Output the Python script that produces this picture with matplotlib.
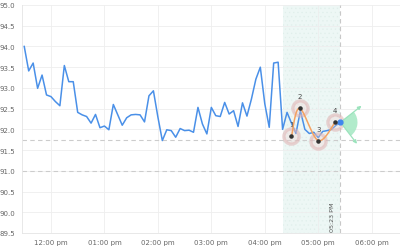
import numpy as np
import matplotlib.pyplot as plt
from matplotlib.patches import Wedge
from matplotlib.transforms import Affine2D, ScaledTranslation


def to_hours(hhmm):
    h, m = hhmm.split(":")
    return int(h) + int(m) / 60.0


# price series, one close every 5 minutes starting 11:30
start_time = "11:30"
step_minutes = 5
prices = [94.00, 93.41, 93.60, 92.99, 93.31, 92.83, 92.79, 92.67, 92.57, 93.54,
          93.15, 93.15, 92.41, 92.35, 92.31, 92.15, 92.36, 92.04, 92.08, 91.99,
          92.60, 92.35, 92.10, 92.28, 92.35, 92.36, 92.35, 92.18, 92.81, 92.93,
          92.30, 91.73, 91.99, 91.97, 91.81, 92.02, 91.97, 91.98, 91.93, 92.53,
          92.13, 91.89, 92.53, 92.33, 92.31, 92.65, 92.37, 92.45, 92.07, 92.64,
          92.32, 92.73, 93.21, 93.50, 92.62, 92.05, 93.60, 93.62, 92.00, 92.41,
          92.15, 91.90, 92.45, 92.00, 91.90, 91.93, 91.80, 91.95, 91.97, 92.00,
          92.10, 92.17]

# pattern points
pattern_labels = ["1", "2", "3", "4"]
pattern_times = ["16:30", "16:39", "17:00", "17:19"]
pattern_values = [91.83, 92.51, 91.73, 92.17]

zone_start = "16:20"
zone_end = "17:25"
cursor_text = "05:23 PM"
level_lines = [91.75, 91.0]

tick_hours = [12, 13, 14, 15, 16, 17, 18]
tick_labels = ["12:00 pm", "01:00 pm", "02:00 pm", "03:00 pm",
               "04:00 pm", "05:00 pm", "06:00 pm"]
y_ticks = [89.5, 90.0, 90.5, 91.0, 91.5, 92.0, 92.5, 93.0, 93.5, 94.0, 94.5, 95.0]

t0 = to_hours(start_time)
times = t0 + np.arange(len(prices)) * step_minutes / 60.0
pt = np.array([to_hours(s) for s in pattern_times])
pv = np.array(pattern_values)

plt.rcParams["hatch.linewidth"] = 0.4
fig = plt.figure(figsize=(4, 2.51), dpi=100)
ax = fig.add_axes([22 / 400, 1 - 234 / 251, 378 / 400, 228 / 251])
ax.set_xlim(11.458, 18.53)
ax.set_ylim(89.5, 95.0)

# grid
ax.set_xticks(tick_hours)
ax.set_xticklabels(tick_labels)
ax.set_yticks(y_ticks)
ax.set_yticklabels([f"{v:.1f}" for v in y_ticks])
ax.grid(True, color="#eeeeee", linewidth=0.6)
ax.set_axisbelow(True)
ax.tick_params(length=0, labelsize=5, colors="#666666")
ax.tick_params(axis="x", pad=4)
ax.tick_params(axis="y", pad=5)
for side in ["top", "right"]:
    ax.spines[side].set_visible(False)
for side in ["left", "bottom"]:
    ax.spines[side].set_color("#e4e4e4")
    ax.spines[side].set_linewidth(0.6)

# levels
for lv in level_lines:
    ax.axhline(lv, color="#cccccc", linewidth=0.8, dashes=(4, 3), zorder=1)

# highlighted zone + cursor
zs, ze = to_hours(zone_start), to_hours(zone_end)
ax.axvspan(zs, ze, facecolor="#edf7f5", edgecolor="#e0efeb", hatch="....",
           linewidth=0, zorder=0.5)
ax.axvline(ze, color="#c8c8c8", linewidth=0.8, dashes=(4, 3), zorder=1)
ax.annotate(cursor_text, xy=(ze, 89.5), xytext=(-7.5, 2), textcoords="offset pixels",
            rotation=90, ha="center", va="bottom", fontsize=4.6, color="#555555")

# price line
ax.plot(times, prices, color="#4a90e8", linewidth=1.1, zorder=3)
ax.plot(times[-1], prices[-1], "o", color="#3f86ee", markersize=3.5, zorder=6)

# pattern curve (Catmull-Rom through the pattern points)
px = np.concatenate([[pt[0]], pt, [pt[-1]]])
py = np.concatenate([[pv[0]], pv, [pv[-1]]])
s = np.linspace(0, 1, 30)
cx, cy = [], []
for i in range(1, len(px) - 2):
    for arr, out in ((px, cx), (py, cy)):
        p0, p1, p2, p3 = arr[i - 1], arr[i], arr[i + 1], arr[i + 2]
        out.extend(0.5 * (2 * p1 + (-p0 + p2) * s + (2 * p0 - 5 * p1 + 4 * p2 - p3) * s ** 2
                          + (-p0 + 3 * p1 - 3 * p2 + p3) * s ** 3))
ax.plot(cx, cy, color="#f4a261", linewidth=1.1, zorder=4)

ax.scatter(pt, pv, s=120, facecolor=(0.95, 0.8, 0.8, 0.3),
           edgecolor=(0.88, 0.7, 0.7, 0.55), linewidth=2.4, zorder=3.5)
ax.scatter(pt, pv, s=5, color="#333333", zorder=6)
for lab, x, y in zip(pattern_labels, pt, pv):
    ax.annotate(lab, xy=(x, y), xytext=(0, 12), textcoords="offset pixels",
                ha="center", va="center", fontsize=5, color="#444444")

# projection fan at the last price
fan_tr = Affine2D() + ScaledTranslation(times[-1], prices[-1], ax.transData)
ax.add_patch(Wedge((0, 0), 17, -52, 38, facecolor="#a9e9c6", edgecolor="none",
                   alpha=0.9, transform=fan_tr, zorder=4))
for dx, dy in [(21, 16.5), (16.5, -21.5)]:
    ax.annotate("", xy=(times[-1], prices[-1]), xytext=(dx, dy), textcoords="offset pixels",
                arrowprops=dict(arrowstyle="<|-", color="#9be3bc", linewidth=0.9,
                                mutation_scale=5, shrinkA=0, shrinkB=0), zorder=4)

fig.savefig("out.png", dpi=100)
